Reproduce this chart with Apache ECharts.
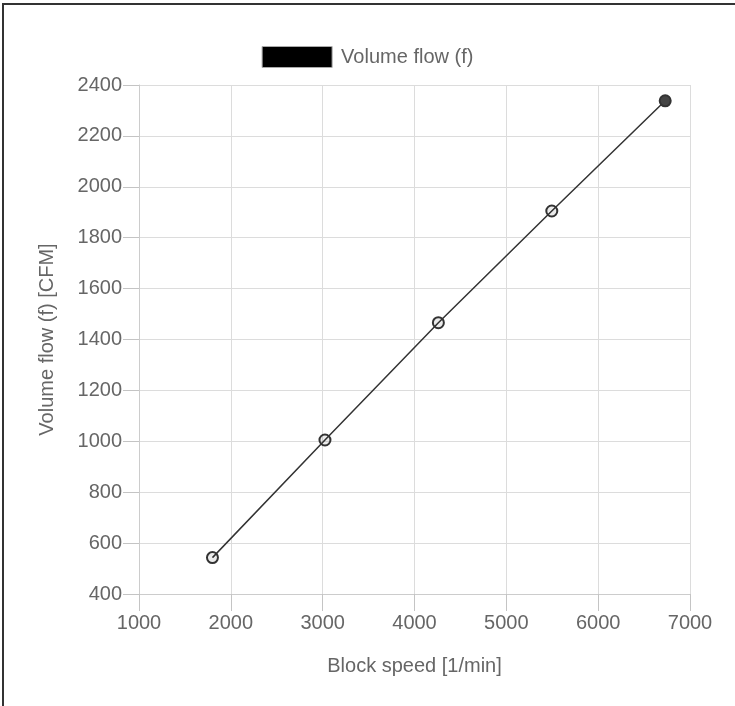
<!DOCTYPE html>
<html>
<head>
<meta charset="utf-8">
<script src="https://cdn.jsdelivr.net/npm/echarts@6/dist/echarts.min.js"></script>
<style>
  html, body { margin: 0; padding: 0; background: #fff; }
  #main { position: absolute; left: 0; top: 0; width: 735px; height: 706px; }
  #frame { position: absolute; left: 2px; top: 3px; width: 740px; height: 710px;
           border-top: 2px solid #333; border-left: 2px solid #333; pointer-events: none; }
</style>
</head>
<body>
<div id="main"></div>
<div id="frame"></div>
<script>
  // 数据
  const seriesName = 'Volume flow (f)';
  const blockSpeed = [1800, 3025, 4260, 5495, 6730];
  const volumeFlow = [543, 1005, 1466, 1905, 2338];

  const xName = 'Block speed [1/min]';
  const yName = 'Volume flow (f) [CFM]';

  const chart = echarts.init(document.getElementById('main'));

  const gridColor = '#dcdcdc';
  const textColor = '#666';
  const font = 'Liberation Sans, Arial, sans-serif';

  const points = blockSpeed.map((x, i) => {
    const item = { value: [x, volumeFlow[i]] };
    // 最后一个点在原图中是实心的
    if (i === blockSpeed.length - 1) {
      item.itemStyle = { color: '#444' };
    }
    return item;
  });

  // 刻度标签不带千位分隔符
  const plain = (v) => String(v);

  const tickLine = { color: '#c4c4c4', width: 1 };

  const option = {
    animation: false,
    textStyle: { fontFamily: font },
    legend: {
      top: 41,
      left: 'center',
      itemWidth: 70,
      itemHeight: 21,
      itemGap: 10,
      textStyle: { color: textColor, fontSize: 20, fontFamily: font, padding: [0, 0, 0, 4] },
      data: [{
        name: seriesName,
        icon: 'rect',
        itemStyle: { color: '#000', borderColor: '#aaa', borderWidth: 1 },
      }],
    },
    grid: { left: 139, right: 45, top: 85, bottom: 112 },
    xAxis: {
      type: 'value',
      min: 1000,
      max: 7000,
      interval: 1000,
      name: xName,
      nameLocation: 'middle',
      nameGap: 62,
      nameTextStyle: { color: textColor, fontSize: 20, fontFamily: font },
      axisLine: { show: true, lineStyle: { color: '#ccc', width: 1 } },
      axisTick: { show: true, inside: false, length: 17, lineStyle: tickLine },
      axisLabel: { color: textColor, fontSize: 20, margin: 19, fontFamily: font, formatter: plain },
      splitLine: { lineStyle: { color: gridColor, width: 1 } },
    },
    yAxis: {
      type: 'value',
      min: 400,
      max: 2400,
      interval: 200,
      name: yName,
      nameLocation: 'middle',
      nameGap: 82,
      nameTextStyle: { color: textColor, fontSize: 20, fontFamily: font },
      axisLine: { show: true, lineStyle: { color: '#ccc', width: 1 } },
      axisTick: { show: true, inside: false, length: 16, lineStyle: tickLine },
      axisLabel: { color: textColor, fontSize: 20, margin: 17, fontFamily: font, formatter: plain },
      splitLine: { lineStyle: { color: gridColor, width: 1 } },
    },
    series: [{
      name: seriesName,
      type: 'line',
      data: points,
      symbol: 'circle',
      symbolSize: 11,
      showAllSymbol: true,
      lineStyle: { color: '#333', width: 1.5 },
      itemStyle: { color: 'rgba(0,0,0,0.08)', borderColor: '#333', borderWidth: 2 },
      emphasis: { disabled: true },
      z: 3,
    }],
  };

  chart.setOption(option);
</script>
</body>
</html>
